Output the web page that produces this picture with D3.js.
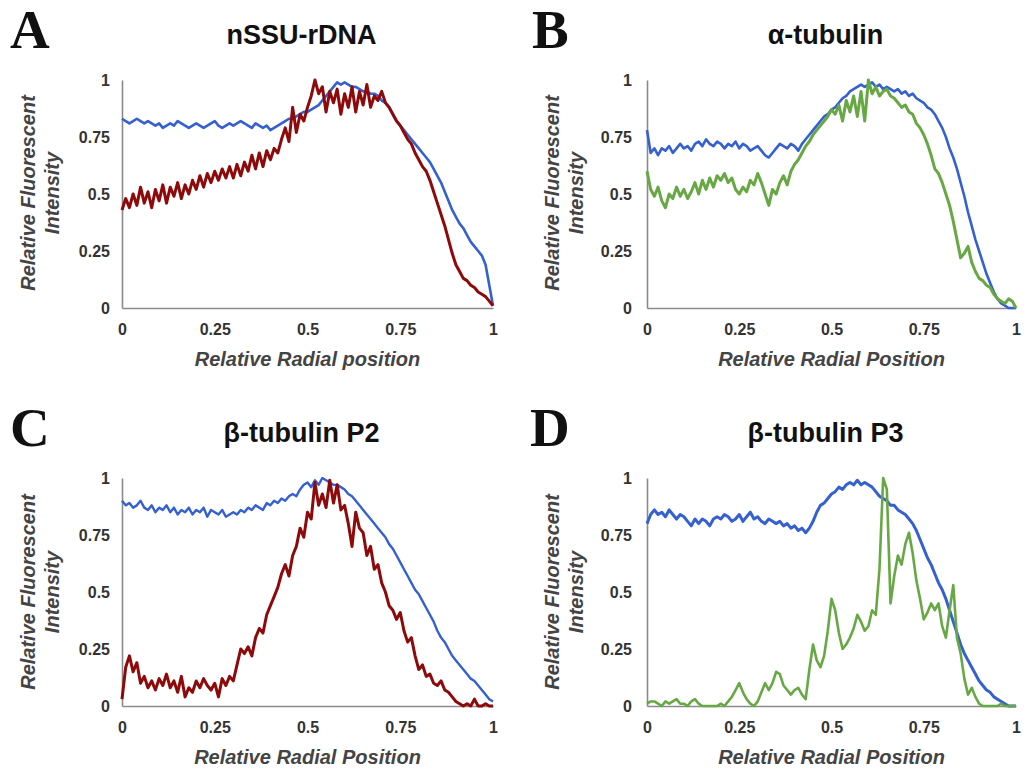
<!DOCTYPE html>
<html lang="en">
<head>
  <meta charset="UTF-8" />
  <title>Radial intensity profiles</title>
  <script src="https://d3js.org/d3.v7.min.js"></script>
  <style>
    body { margin: 0; background: #fff; }
    .tick-label { font: bold 16px "Liberation Sans", Arial, sans-serif; fill: #333; }
    .axis-title { font: italic bold 20px "Liberation Sans", Arial, sans-serif; fill: #444; }
    .panel-title { font: bold 27px "Liberation Sans", Arial, sans-serif; fill: #111; }
    .panel-letter { font: bold 55px "Liberation Serif", "Times New Roman", serif; fill: #111; }
  </style>
</head>
<body>
<div id="chart"></div>
<script>
// Tick values shared by every panel
const ticks = [0, 0.25, 0.5, 0.75, 1];

// Profiles sampled every 0.01 of relative radial position (0..1)
const blueA = [
  0.83, 0.82, 0.81, 0.82, 0.83, 0.82, 0.81, 0.82, 0.81, 0.80,
  0.81, 0.79, 0.80, 0.81, 0.80, 0.82, 0.81, 0.80, 0.79, 0.80,
  0.81, 0.80, 0.79, 0.80, 0.81, 0.82, 0.80, 0.79, 0.80, 0.81,
  0.80, 0.81, 0.82, 0.81, 0.80, 0.79, 0.81, 0.80, 0.79, 0.80,
  0.78, 0.79, 0.80, 0.81, 0.82, 0.83, 0.83, 0.84, 0.85, 0.86,
  0.86, 0.87, 0.88, 0.89, 0.91, 0.93, 0.95, 0.97, 0.99, 0.98,
  0.99, 0.98, 0.97, 0.97, 0.96, 0.95, 0.95, 0.94, 0.94, 0.93,
  0.91, 0.90, 0.88, 0.85, 0.82, 0.80, 0.78, 0.76, 0.74, 0.72,
  0.70, 0.68, 0.66, 0.64, 0.61, 0.58, 0.55, 0.51, 0.47, 0.43,
  0.40, 0.37, 0.35, 0.32, 0.29, 0.27, 0.25, 0.23, 0.19, 0.10,
  0.01
];
const redA = [
  0.43, 0.48, 0.44, 0.50, 0.45, 0.53, 0.46, 0.51, 0.44, 0.52,
  0.47, 0.54, 0.46, 0.53, 0.49, 0.55, 0.48, 0.54, 0.50, 0.56,
  0.52, 0.58, 0.53, 0.59, 0.55, 0.60, 0.56, 0.61, 0.57, 0.62,
  0.57, 0.63, 0.58, 0.64, 0.60, 0.67, 0.61, 0.68, 0.62, 0.69,
  0.65, 0.70, 0.68, 0.74, 0.79, 0.73, 0.88, 0.77, 0.85, 0.82,
  0.88, 0.93, 1.00, 0.94, 0.97, 0.86, 0.95, 0.90, 0.96, 0.85,
  0.94, 0.88, 0.97, 0.86, 0.95, 0.89, 0.98, 0.88, 0.93, 0.91,
  0.95, 0.90, 0.88, 0.85, 0.82, 0.80, 0.77, 0.74, 0.72, 0.68,
  0.65, 0.62, 0.60, 0.56, 0.51, 0.46, 0.41, 0.36, 0.30, 0.24,
  0.19, 0.16, 0.13, 0.12, 0.10, 0.09, 0.07, 0.06, 0.05, 0.03,
  0.01
];
const blueB = [
  0.78, 0.68, 0.70, 0.67, 0.70, 0.69, 0.71, 0.68, 0.70, 0.72,
  0.70, 0.71, 0.69, 0.72, 0.73, 0.71, 0.74, 0.72, 0.71, 0.73,
  0.72, 0.70, 0.72, 0.71, 0.73, 0.70, 0.72, 0.71, 0.69, 0.70,
  0.71, 0.69, 0.67, 0.66, 0.68, 0.70, 0.72, 0.71, 0.70, 0.72,
  0.71, 0.69, 0.72, 0.74, 0.76, 0.78, 0.80, 0.82, 0.84, 0.85,
  0.87, 0.88, 0.90, 0.92, 0.93, 0.95, 0.96, 0.97, 0.98, 0.97,
  0.98, 0.99, 0.97, 0.98, 0.96, 0.97, 0.96, 0.95, 0.96, 0.94,
  0.95, 0.93, 0.94, 0.92, 0.91, 0.90, 0.88, 0.87, 0.85, 0.82,
  0.79, 0.75, 0.70, 0.66, 0.61, 0.55, 0.49, 0.42, 0.36, 0.30,
  0.25, 0.20, 0.15, 0.11, 0.07, 0.04, 0.02, 0.01, 0.00, 0.00,
  0.00
];
const greenB = [
  0.60, 0.52, 0.49, 0.53, 0.47, 0.44, 0.50, 0.48, 0.53, 0.49,
  0.52, 0.48, 0.51, 0.55, 0.50, 0.56, 0.52, 0.57, 0.53, 0.58,
  0.56, 0.59, 0.55, 0.57, 0.52, 0.50, 0.53, 0.51, 0.56, 0.54,
  0.59, 0.55, 0.50, 0.45, 0.52, 0.50, 0.55, 0.58, 0.54, 0.60,
  0.63, 0.65, 0.68, 0.71, 0.73, 0.76, 0.78, 0.80, 0.82, 0.84,
  0.87, 0.85, 0.89, 0.82, 0.91, 0.86, 0.93, 0.84, 0.95, 0.82,
  1.00, 0.94, 0.97, 0.93, 0.95, 0.96, 0.93, 0.92, 0.90, 0.88,
  0.89, 0.86, 0.85, 0.81, 0.79, 0.76, 0.72, 0.67, 0.61, 0.59,
  0.55, 0.50, 0.45, 0.38, 0.30, 0.22, 0.24, 0.27, 0.20, 0.16,
  0.13, 0.12, 0.10, 0.09, 0.06, 0.04, 0.03, 0.02, 0.04, 0.03,
  0.00
];
const blueC = [
  0.90, 0.88, 0.89, 0.87, 0.88, 0.90, 0.87, 0.86, 0.88, 0.85,
  0.87, 0.86, 0.88, 0.85, 0.87, 0.84, 0.86, 0.85, 0.87, 0.84,
  0.86, 0.85, 0.87, 0.83, 0.86, 0.85, 0.84, 0.86, 0.83, 0.84,
  0.85, 0.84, 0.86, 0.85, 0.87, 0.86, 0.88, 0.87, 0.86, 0.89,
  0.88, 0.90, 0.89, 0.91, 0.90, 0.92, 0.93, 0.92, 0.95, 0.97,
  0.98, 0.96, 0.99, 0.97, 1.00, 0.99, 0.98, 0.97, 0.97, 0.96,
  0.95, 0.93, 0.92, 0.90, 0.88, 0.86, 0.84, 0.82, 0.80, 0.78,
  0.76, 0.74, 0.71, 0.69, 0.66, 0.63, 0.60, 0.57, 0.54, 0.51,
  0.49, 0.46, 0.43, 0.40, 0.37, 0.33, 0.30, 0.28, 0.25, 0.22,
  0.20, 0.18, 0.16, 0.14, 0.12, 0.11, 0.09, 0.07, 0.05, 0.03,
  0.02
];
const redC = [
  0.03, 0.17, 0.22, 0.15, 0.19, 0.10, 0.13, 0.08, 0.11, 0.07,
  0.12, 0.09, 0.14, 0.08, 0.11, 0.06, 0.13, 0.04, 0.08, 0.06,
  0.11, 0.08, 0.12, 0.09, 0.07, 0.10, 0.04, 0.12, 0.09, 0.13,
  0.11, 0.18, 0.25, 0.23, 0.26, 0.22, 0.30, 0.34, 0.32, 0.40,
  0.44, 0.48, 0.52, 0.58, 0.62, 0.57, 0.66, 0.70, 0.78, 0.74,
  0.85, 0.82, 0.98, 0.88, 0.93, 0.87, 0.99, 0.89, 0.97, 0.86,
  0.88, 0.80, 0.70, 0.85, 0.78, 0.76, 0.66, 0.70, 0.60, 0.62,
  0.54, 0.50, 0.44, 0.42, 0.38, 0.41, 0.33, 0.28, 0.30, 0.22,
  0.16, 0.18, 0.13, 0.14, 0.10, 0.09, 0.11, 0.07, 0.06, 0.04,
  0.02, 0.01, 0.00, 0.01, 0.00, 0.03, 0.00, 0.00, 0.01, 0.00,
  0.00
];
const blueD = [
  0.80, 0.84, 0.86, 0.84, 0.85, 0.83, 0.86, 0.84, 0.82, 0.84,
  0.83, 0.81, 0.79, 0.82, 0.80, 0.82, 0.81, 0.79, 0.82, 0.83,
  0.82, 0.84, 0.83, 0.81, 0.82, 0.84, 0.81, 0.83, 0.85, 0.82,
  0.83, 0.81, 0.80, 0.82, 0.81, 0.80, 0.81, 0.79, 0.80, 0.78,
  0.79, 0.77, 0.78, 0.76, 0.78, 0.81, 0.85, 0.88, 0.89, 0.91,
  0.93, 0.94, 0.96, 0.95, 0.97, 0.98, 0.97, 0.99, 0.97, 0.98,
  0.97, 0.96, 0.94, 0.92, 0.91, 0.90, 0.88, 0.88, 0.86, 0.85,
  0.84, 0.82, 0.80, 0.77, 0.73, 0.69, 0.65, 0.62, 0.58, 0.54,
  0.51, 0.47, 0.42, 0.37, 0.32, 0.27, 0.23, 0.20, 0.17, 0.14,
  0.11, 0.09, 0.07, 0.06, 0.04, 0.03, 0.02, 0.01, 0.00, 0.00,
  0.00
];
const greenD = [
  0.01, 0.02, 0.02, 0.01, 0.00, 0.02, 0.01, 0.02, 0.03, 0.01,
  0.01, 0.00, 0.02, 0.03, 0.01, 0.00, 0.00, 0.00, 0.00, 0.00,
  0.01, 0.00, 0.02, 0.04, 0.07, 0.10, 0.06, 0.03, 0.01, 0.00,
  0.02, 0.06, 0.10, 0.07, 0.10, 0.15, 0.14, 0.09, 0.07, 0.05,
  0.07, 0.08, 0.05, 0.03, 0.16, 0.27, 0.20, 0.17, 0.22, 0.33,
  0.47, 0.42, 0.32, 0.25, 0.27, 0.30, 0.34, 0.40, 0.37, 0.33,
  0.35, 0.42, 0.40, 0.60, 1.00, 0.95, 0.45, 0.57, 0.66, 0.62,
  0.71, 0.76, 0.67, 0.55, 0.47, 0.38, 0.41, 0.45, 0.42, 0.45,
  0.35, 0.30, 0.42, 0.53, 0.30, 0.23, 0.12, 0.05, 0.08, 0.04,
  0.01, 0.00, 0.00, 0.00, 0.00, 0.00, 0.01, 0.00, 0.00, 0.00,
  0.00
];

const BLUE = "#3560d0", RED = "#8e0a0a", GREEN = "#67a844";

const panels = [
  { letter: "A", title: "nSSU-rDNA", xTitle: "Relative Radial position",
    x0: 122, x1: 493, top: 80, bottom: 308, letterX: 10, pad: 12,
    yTitle1: 35, yTitle2: 59, cy: 193,
    series: [[blueA, BLUE, 2.6], [redA, RED, 3]] },
  { letter: "B", title: "\u03b1-tubulin", xTitle: "Relative Radial Position",
    x0: 647, x1: 1016, top: 80, bottom: 308, letterX: 532, pad: 15,
    yTitle1: 559, yTitle2: 583, cy: 193,
    series: [[blueB, BLUE, 2.6], [greenB, GREEN, 3]] },
  { letter: "C", title: "\u03b2-tubulin P2", xTitle: "Relative Radial Position",
    x0: 122, x1: 493, top: 478, bottom: 706, letterX: 10, pad: 12,
    yTitle1: 35, yTitle2: 59, cy: 592,
    series: [[blueC, BLUE, 2.4], [redC, RED, 3]] },
  { letter: "D", title: "\u03b2-tubulin P3", xTitle: "Relative Radial Position",
    x0: 647, x1: 1016, top: 478, bottom: 706, letterX: 530, pad: 15,
    yTitle1: 559, yTitle2: 583, cy: 592,
    series: [[blueD, BLUE, 3], [greenD, GREEN, 2.6]] }
];

const svg = d3.select("#chart").append("svg")
  .attr("width", 1029).attr("height", 770);

panels.forEach(p => {
  const g = svg.append("g");
  const x = d3.scaleLinear().domain([0, 1]).range([p.x0, p.x1]);
  const y = d3.scaleLinear().domain([0, 1]).range([p.bottom, p.top]);

  // panel letter and title
  g.append("text").attr("class", "panel-letter")
    .attr("x", p.letterX).attr("y", p.top - 32).text(p.letter);
  g.append("text").attr("class", "panel-title")
    .attr("x", (p.x0 + p.x1) / 2 - 6).attr("y", p.top - 36)
    .attr("text-anchor", "middle").text(p.title);

  // axes: only the two lines, no tick marks
  const xAxis = d3.axisBottom(x).tickValues(ticks).tickSize(0).tickPadding(16).tickFormat(String);
  const yAxis = d3.axisLeft(y).tickValues(ticks).tickSize(0).tickPadding(p.pad).tickFormat(String);
  const gx = g.append("g").attr("transform", `translate(0,${p.bottom})`).call(xAxis);
  const gy = g.append("g").attr("transform", `translate(${p.x0},0)`).call(yAxis);
  [gx, gy].forEach(a => {
    a.select(".domain").attr("stroke", "#8a8a8a").attr("stroke-width", 1.6);
    a.selectAll("text").attr("class", "tick-label").attr("fill", null);
  });
  gy.selectAll("text").attr("dy", "0.35em");

  // series lines
  const line = d3.line()
    .x((d, i) => x(i / 100))
    .y(d => y(d));
  p.series.forEach(([vals, color, w]) => {
    g.append("path").datum(vals)
      .attr("fill", "none")
      .attr("stroke", color)
      .attr("stroke-width", w)
      .attr("stroke-linejoin", "round")
      .attr("d", line);
  });

  // axis titles
  g.append("text").attr("class", "axis-title")
    .attr("x", (p.x0 + p.x1) / 2).attr("y", p.bottom + 58)
    .attr("text-anchor", "middle").text(p.xTitle);
  g.append("text").attr("class", "axis-title")
    .attr("transform", `translate(${p.yTitle1},${p.cy}) rotate(-90)`)
    .attr("text-anchor", "middle").text("Relative Fluorescent");
  g.append("text").attr("class", "axis-title")
    .attr("transform", `translate(${p.yTitle2},${p.cy}) rotate(-90)`)
    .attr("text-anchor", "middle").text("Intensity");
});
</script>
</body>
</html>
